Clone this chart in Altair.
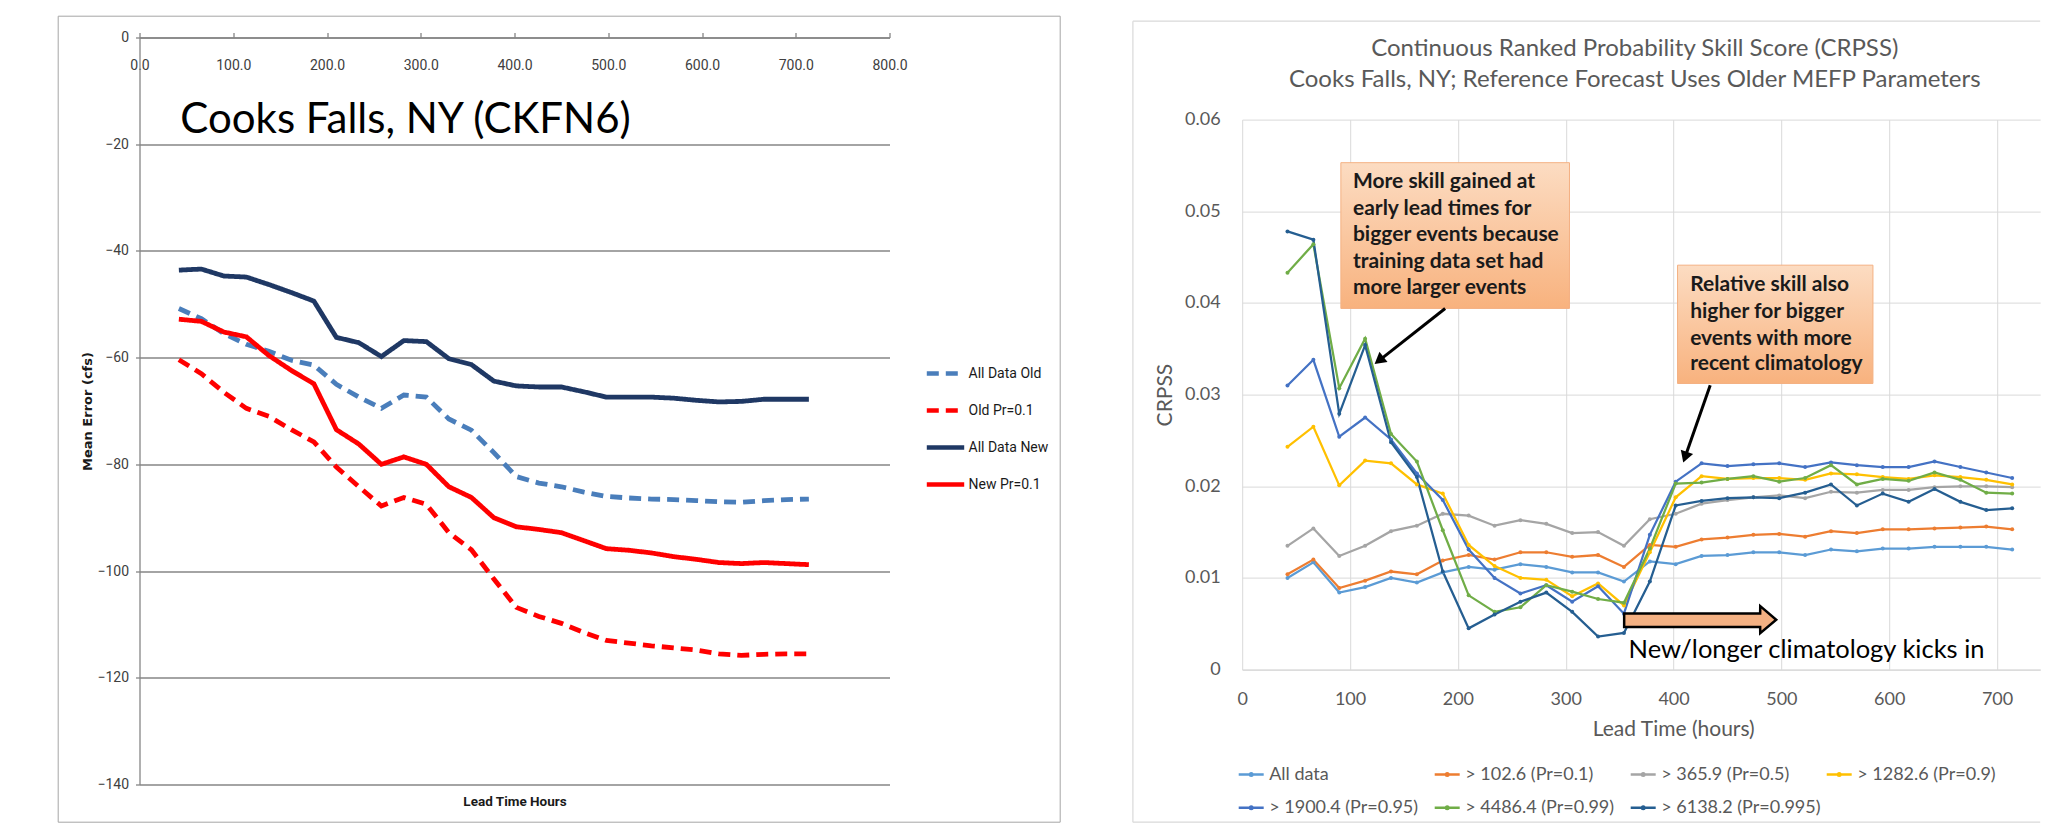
import altair as alt
import pandas as pd

# ---------------- data ----------------
lead_hours = [42, 66, 90, 114, 138, 162, 186, 210, 234, 258, 282, 306, 330, 354, 378,
              402, 426, 450, 474, 498, 522, 546, 570, 594, 618, 642, 666, 690, 714]

# Left panel: mean error (cfs)
left_series = ["All Data Old", "Old Pr=0.1", "All Data New", "New Pr=0.1"]
all_data_old = [-50.8, -52.7, -55.5, -57.5, -58.8, -60.5, -61.4, -65.0, -67.4, -69.5, -67.0, -67.4, -71.5, -73.6,
                -77.8, -82.3, -83.5, -84.2, -85.2, -86.0, -86.3, -86.5, -86.6, -86.8, -87.0, -87.1, -86.8, -86.6, -86.5]
old_pr01 = [-60.4, -63.0, -66.5, -69.5, -71.0, -73.5, -75.8, -80.5, -84.2, -87.8, -86.2, -87.5, -92.8, -96.0,
            -101.5, -106.8, -108.5, -109.8, -111.5, -113.0, -113.5, -114.0, -114.4, -114.8, -115.5, -115.8, -115.6, -115.5, -115.5]
all_data_new = [-43.6, -43.4, -44.7, -44.9, -46.3, -47.8, -49.4, -56.2, -57.2, -59.8, -56.8, -57.0, -60.2, -61.3,
                -64.4, -65.3, -65.5, -65.5, -66.4, -67.4, -67.4, -67.4, -67.6, -68.0, -68.3, -68.2, -67.8, -67.8, -67.8]
new_pr01 = [-52.8, -53.2, -55.2, -56.1, -59.6, -62.4, -64.9, -73.5, -76.2, -80.0, -78.6, -80.0, -84.2, -86.2,
            -90.0, -91.7, -92.2, -92.8, -94.3, -95.8, -96.1, -96.6, -97.3, -97.8, -98.4, -98.6, -98.4, -98.6, -98.8]
left_values = [all_data_old, old_pr01, all_data_new, new_pr01]
left_x_ticks = [0, 100, 200, 300, 400, 500, 600, 700, 800]
left_y_ticks = [0, -20, -40, -60, -80, -100, -120, -140]

# Right panel: CRPSS
right_series = ["All data", "> 102.6 (Pr=0.1)", "> 365.9 (Pr=0.5)", "> 1282.6 (Pr=0.9)",
                "> 1900.4 (Pr=0.95)", "> 4486.4 (Pr=0.99)", "> 6138.2 (Pr=0.995)"]
crpss_all = [0.0100, 0.0117, 0.0084, 0.0090, 0.0100, 0.0095, 0.0106, 0.0112, 0.0109, 0.0115, 0.0112, 0.0106, 0.0106, 0.0096,
             0.0118, 0.0115, 0.0124, 0.0125, 0.0128, 0.0128, 0.0125, 0.0131, 0.0129, 0.0132, 0.0132, 0.0134, 0.0134, 0.0134, 0.0131]
crpss_p01 = [0.0104, 0.0120, 0.0089, 0.0097, 0.0107, 0.0104, 0.0119, 0.0125, 0.0120, 0.0128, 0.0128, 0.0123, 0.0125, 0.0112,
             0.0136, 0.0134, 0.0142, 0.0144, 0.0147, 0.0148, 0.0145, 0.0151, 0.0149, 0.0153, 0.0153, 0.0154, 0.0155, 0.0156, 0.0153]
crpss_p05 = [0.0135, 0.0154, 0.0124, 0.0135, 0.0151, 0.0157, 0.0170, 0.0168, 0.0157, 0.0163, 0.0159, 0.0149, 0.0150, 0.0135,
             0.0164, 0.0170, 0.0181, 0.0185, 0.0188, 0.0190, 0.0187, 0.0194, 0.0193, 0.0196, 0.0196, 0.0199, 0.0200, 0.0200, 0.0199]
crpss_p09 = [0.0243, 0.0265, 0.0201, 0.0228, 0.0225, 0.0202, 0.0192, 0.0136, 0.0113, 0.0100, 0.0098, 0.0080, 0.0094, 0.0070,
             0.0128, 0.0188, 0.0211, 0.0208, 0.0209, 0.0209, 0.0207, 0.0214, 0.0213, 0.0210, 0.0208, 0.0212, 0.0210, 0.0207, 0.0202]
crpss_p095 = [0.0310, 0.0338, 0.0254, 0.0275, 0.0251, 0.0214, 0.0185, 0.0131, 0.0100, 0.0083, 0.0092, 0.0074, 0.0091, 0.0061,
              0.0147, 0.0205, 0.0225, 0.0222, 0.0224, 0.0225, 0.0221, 0.0226, 0.0223, 0.0221, 0.0221, 0.0227, 0.0221, 0.0215, 0.0209]
crpss_p099 = [0.0433, 0.0464, 0.0307, 0.0361, 0.0257, 0.0227, 0.0152, 0.0081, 0.0063, 0.0068, 0.0092, 0.0085, 0.0077, 0.0073,
              0.0132, 0.0203, 0.0204, 0.0208, 0.0211, 0.0205, 0.0209, 0.0223, 0.0202, 0.0208, 0.0206, 0.0215, 0.0207, 0.0193, 0.0192]
crpss_p0995 = [0.0478, 0.0469, 0.0279, 0.0354, 0.0248, 0.0210, 0.0107, 0.0045, 0.0060, 0.0074, 0.0084, 0.0063, 0.0036, 0.0040,
               0.0096, 0.0179, 0.0184, 0.0187, 0.0188, 0.0187, 0.0193, 0.0202, 0.0179, 0.0192, 0.0183, 0.0197, 0.0183, 0.0174, 0.0176]
right_values = [crpss_all, crpss_p01, crpss_p05, crpss_p09, crpss_p095, crpss_p099, crpss_p0995]
right_x_ticks = [0, 100, 200, 300, 400, 500, 600, 700]
right_y_ticks = [0, 0.01, 0.02, 0.03, 0.04, 0.05, 0.06]

# Text
left_title = "Cooks Falls, NY (CKFN6)"
right_title = ["Continuous Ranked Probability Skill Score (CRPSS)",
               "Cooks Falls, NY; Reference Forecast Uses Older MEFP Parameters"]
box1_lines = ["More skill gained at", "early lead times for", "bigger events because",
              "training data set had", "more larger events"]
box2_lines = ["Relative skill also", "higher for bigger", "events with more", "recent climatology"]
kick_text = "New/longer climatology kicks in"

# ---------------- styles ----------------
NARROW = "Roboto, Liberation Sans, sans-serif"
LATO = "Lato, Open Sans, sans-serif"
left_colors = ["#4A7EBB", "#FF0000", "#1F3864", "#FF0000"]
left_dashes = [[12, 7], [12, 7], [1, 0], [1, 0]]
right_colors = ["#5B9BD5", "#ED7D31", "#A5A5A5", "#FFC000", "#4472C4", "#70AD47", "#255E91"]
LINE_DOT = "M-1,0L1,0M-0.1,0A0.1,0.1,0,1,0,0.1,0A0.1,0.1,0,1,0,-0.1,0"

LW, LH = 750, 747
RW, RH = 798, 550

# ---------------- left panel ----------------
left_df = pd.DataFrame([
    {"lead": h, "err": v, "series": s}
    for s, vals in zip(left_series, left_values) for h, v in zip(lead_hours, vals)
])

lx = alt.X("lead:Q", scale=alt.Scale(domain=[0, 800], nice=False, zero=False),
           axis=alt.Axis(orient="top", values=left_x_ticks, format=".1f", grid=False,
                         domain=True, domainColor="#868686", domainWidth=1.3,
                         ticks=True, tickSize=5, tickColor="#868686", tickWidth=1.3,
                         labelPadding=-33, labelBaseline="middle", labelFont=NARROW, labelFontSize=14,
                         labelColor="#404040", labelOverlap=False, labelFlush=False,
                         title="Lead Time Hours", titleFont=NARROW, titleFontSize=13.5, titleFontWeight="bold",
                         titleColor="#1a1a1a", titleX=375, titleY=764, titleBaseline="middle",
                         titleAlign="center", titleAngle=0))
ly = alt.Y("err:Q", scale=alt.Scale(domain=[-140, 0], nice=False, zero=False),
           axis=alt.Axis(values=left_y_ticks, format="d", grid=True, gridColor="#868686", gridWidth=1.3,
                         domain=True, domainColor="#868686", domainWidth=1.3,
                         ticks=True, tickSize=4, tickColor="#868686", tickWidth=1.3,
                         labelPadding=7, labelFont=NARROW, labelFontSize=14, labelColor="#404040",
                         labelOverlap=False, labelFlush=False,
                         title="Mean Error (cfs)", titleFont="DejaVu Sans", titleFontSize=13,
                         titleFontWeight="bold", titleColor="#1a1a1a", titleX=-52, titleY=373.5,
                         titleBaseline="middle", titleAlign="center", titleAngle=270))

left_legend = alt.Legend(orient="none", legendX=785, legendY=315, title=None, symbolType="stroke",
                         symbolSize=1400, symbolStrokeWidth=4.5, labelFont=NARROW, labelFontSize=14,
                         labelColor="#1a1a1a", rowPadding=7, labelOffset=2, padding=0)

left_lines = alt.Chart(left_df).mark_line(strokeWidth=4.8).encode(
    x=lx, y=ly,
    color=alt.Color("series:N", sort=left_series,
                    scale=alt.Scale(domain=left_series, range=left_colors), legend=left_legend),
    strokeDash=alt.StrokeDash("series:N", sort=left_series,
                              scale=alt.Scale(domain=left_series, range=left_dashes), legend=left_legend),
)

left_title_df = pd.DataFrame({"lead": [43.5], "err": [-17.9], "label": [left_title]})
left_title_mark = alt.Chart(left_title_df).mark_text(
    font=LATO, fontSize=42, align="left", baseline="alphabetic", color="black"
).encode(x=lx, y=ly, text="label:N")

frame_df = pd.DataFrame({"k": [0]})
left_frame = alt.Chart(frame_df).mark_rect(fillOpacity=0, stroke="#A6A6A6", strokeWidth=1).encode(
    x=alt.value(-81.3), x2=alt.value(920.7), y=alt.value(-21.3), y2=alt.value(784.7))

left_chart = alt.layer(left_frame, left_lines, left_title_mark).properties(width=LW, height=LH)

# ---------------- right panel ----------------
right_df = pd.DataFrame([
    {"lead": h, "crpss": v, "thr": s}
    for s, vals in zip(right_series, right_values) for h, v in zip(lead_hours, vals)
])

rx = alt.X("lead:Q", scale=alt.Scale(domain=[0, 740], nice=False, zero=False),
           axis=alt.Axis(values=right_x_ticks, format="d", grid=True, gridColor="#D9D9D9", gridWidth=1,
                         domain=True, domainColor="#D9D9D9", domainWidth=1.2, ticks=False, tickSize=0,
                         labelPadding=21, labelFont=LATO, labelFontSize=18, labelColor="#595959",
                         labelFlush=False, labelOverlap=False,
                         title="Lead Time (hours)", titleFont=LATO, titleFontSize=21, titleFontWeight="normal",
                         titleColor="#595959", titleX=431, titleY=60, titleBaseline="middle", titleAlign="center"))
ry = alt.Y("crpss:Q", scale=alt.Scale(domain=[0, 0.06], nice=False, zero=True),
           axis=alt.Axis(values=right_y_ticks, format="~g", grid=True, gridColor="#D9D9D9", gridWidth=1,
                         domain=False, ticks=False, tickSize=0, labelPadding=22, labelFont=LATO,
                         labelFontSize=18, labelColor="#595959", labelOverlap=False, labelFlush=False,
                         title="CRPSS", titleFont=LATO, titleFontSize=21, titleFontWeight="normal",
                         titleColor="#595959", titleX=-77, titleY=275, titleBaseline="middle",
                         titleAlign="center", titleAngle=270))

# legend is placed by the column group (its origin is 82.1 px above the plot)
right_legend = alt.Legend(orient="none", legendX=-5, legendY=723, direction="horizontal", columns=4,
                          gridAlign="all", title=None, symbolType=LINE_DOT, symbolSize=625,
                          symbolStrokeWidth=2.5, labelFont=LATO, labelFontSize=18, labelColor="#595959",
                          labelOffset=4, columnPadding=0, rowPadding=10.3, padding=0, labelLimit=300)

right_lines = alt.Chart(right_df).mark_line(
    strokeWidth=2.25, point=alt.OverlayMarkDef(size=16, filled=True)
).encode(
    x=rx, y=ry,
    color=alt.Color("thr:N", sort=right_series,
                    scale=alt.Scale(domain=right_series, range=right_colors), legend=right_legend),
)

# annotation boxes (data coordinates)
box_df = pd.DataFrame({"lead": [91.5, 403.7], "lead2": [303.5, 584.9],
                       "crpss": [0.0553, 0.04412], "crpss2": [0.0394, 0.03121]})
box_fill = alt.LinearGradient(gradient="linear",
                              stops=[alt.GradientStop(color="#FCDCC2", offset=0),
                                     alt.GradientStop(color="#F8B27E", offset=1)],
                              x1=0, x2=0, y1=0, y2=1)
boxes = alt.Chart(box_df).mark_rect(fill=box_fill, stroke="#F4B183", strokeWidth=1).encode(
    x=rx, x2=alt.X2("lead2:Q"), y=ry, y2=alt.Y2("crpss2:Q"))

box_text_df = pd.DataFrame({
    "lead": [102.7] * len(box1_lines) + [415.4] * len(box2_lines),
    "crpss": [0.05314, 0.05023, 0.04739, 0.04448, 0.04164, 0.04191, 0.03902, 0.03612, 0.03332],
    "label": box1_lines + box2_lines,
})
box_text = alt.Chart(box_text_df).mark_text(
    font=LATO, fontSize=21, fontWeight="bold", align="left", baseline="middle", color="#1a1a1a"
).encode(x=rx, y=ry, text="label:N")

arrow_df = pd.DataFrame({"lead": [188.2, 434.0], "lead2": [129.2, 411.6],
                         "crpss": [0.03939, 0.03103], "crpss2": [0.03393, 0.02349]})
arrow_lines = alt.Chart(arrow_df).mark_rule(color="black", strokeWidth=3).encode(
    x=rx, x2=alt.X2("lead2:Q"), y=ry, y2=alt.Y2("crpss2:Q"))
head_df = pd.DataFrame({"lead": [126.9, 410.7], "crpss": [0.03373, 0.02317], "ang": [231.8, 199.2]})
arrow_heads = alt.Chart(head_df).mark_point(shape="triangle-up", filled=True, color="black",
                                            size=170, opacity=1).encode(
    x=rx, y=ry, angle=alt.Angle("ang:Q", scale=None))

block_df = pd.DataFrame({"lead": [354.2, 480.3, 480.4, 495.2],
                         "crpss": [0.00612, 0.00612, 0.00692, 0.00544],
                         "crpss2": [0.00466, 0.00466, 0.00397, 0.00544]})
block_arrow = alt.Chart(block_df).mark_area(fill="#F4B183", stroke="black", strokeWidth=2.5,
                                            fillOpacity=1).encode(
    x=rx, y=ry, y2=alt.Y2("crpss2:Q"))

kick_df = pd.DataFrame({"lead": [358.3], "crpss": [0.00132], "label": [kick_text]})
kick_mark = alt.Chart(kick_df).mark_text(font=LATO, fontSize=25.5, align="left", baseline="alphabetic",
                                         color="black").encode(x=rx, y=ry, text="label:N")

title_df = pd.DataFrame({"lead": [364, 364], "crpss": [0.06765, 0.06437], "label": right_title})
title_mark = alt.Chart(title_df).mark_text(font=LATO, fontSize=24, align="center", baseline="middle",
                                           color="#595959").encode(x=rx, y=ry, text="label:N")

right_frame_df = pd.DataFrame({"k": [0]})
rf_left = alt.Chart(right_frame_df).mark_rule(color="#D9D9D9", strokeWidth=1.2).encode(
    x=alt.value(-109.3), x2=alt.value(-109.3), y=alt.value(-98.4), y2=alt.value(702.6))
rf_top = alt.Chart(right_frame_df).mark_rule(color="#D9D9D9", strokeWidth=1.2).encode(
    x=alt.value(-109.3), x2=alt.value(798), y=alt.value(-98.4), y2=alt.value(-98.4))
rf_bottom = alt.Chart(right_frame_df).mark_rule(color="#D9D9D9", strokeWidth=1.2).encode(
    x=alt.value(-109.3), x2=alt.value(798), y=alt.value(702.6), y2=alt.value(702.6))

right_chart = alt.layer(
    rf_left, rf_top, rf_bottom, right_lines, boxes, box_text, arrow_lines, arrow_heads,
    block_arrow, kick_mark, title_mark
).properties(width=RW, height=RH)

spacer = alt.Chart(pd.DataFrame({"a": [0]})).mark_point(opacity=0).encode(
    x=alt.X("a:Q", axis=None), y=alt.Y("a:Q", axis=None)
).properties(width=RW, height=62)

right_col = alt.vconcat(spacer, right_chart, spacing=20.1, bounds="flush").resolve_scale(
    x="independent", y="independent")

chart = alt.hconcat(left_chart, right_col, spacing=352.7, bounds="flush").resolve_scale(
    x="independent", y="independent", color="independent", strokeDash="independent"
).resolve_legend(color="independent", strokeDash="independent").properties(
    padding={"left": 49.5, "top": 7.5, "right": 0, "bottom": 0},
    background="white",
).configure_view(strokeWidth=0)

chart.save("out.html", embed_options={"renderer": "svg", "actions": False})
